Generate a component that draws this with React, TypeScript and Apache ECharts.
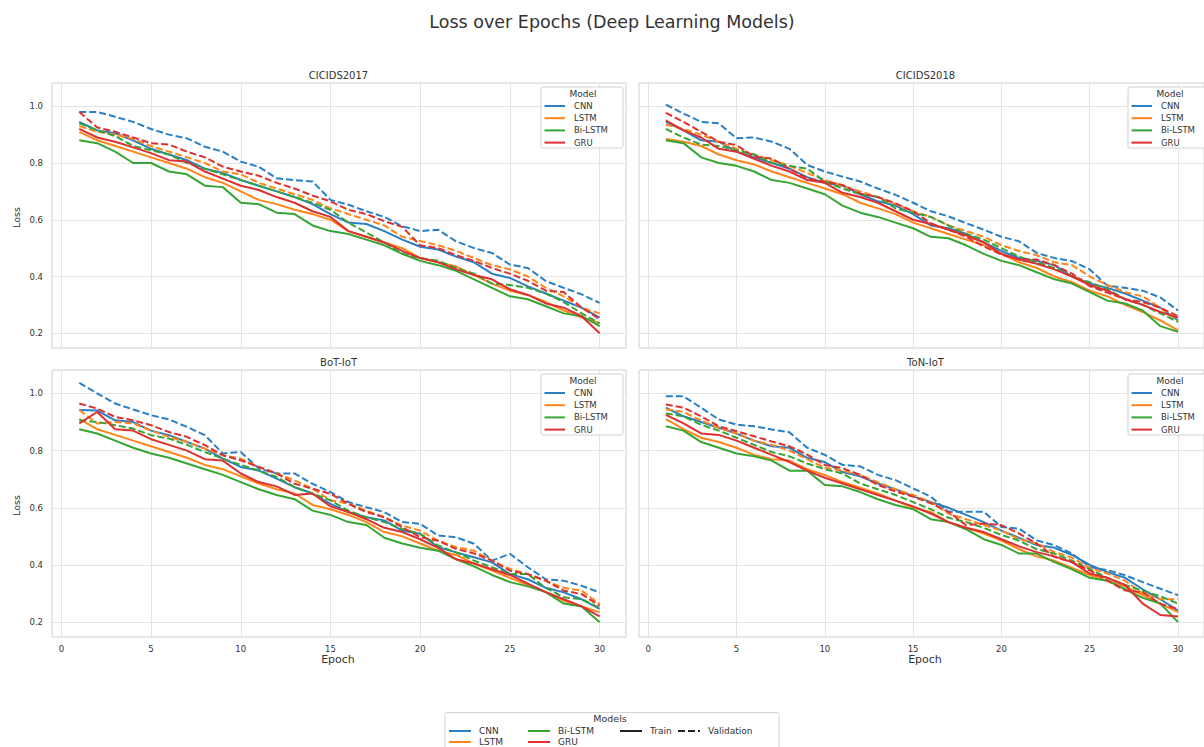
import React, { useEffect, useRef } from "react";
import * as echarts from "echarts";

// ---------- data ----------
const EPOCHS = [1, 2, 3, 4, 5, 6, 7, 8, 9, 10, 11, 12, 13, 14, 15, 16, 17, 18, 19, 20, 21, 22, 23, 24, 25, 26, 27, 28, 29, 30];
const MODELS = ["CNN", "LSTM", "Bi-LSTM", "GRU"];
const DATASETS = ["CICIDS2017", "CICIDS2018", "BoT-IoT", "ToN-IoT"];
const Y_TICKS = [0.2, 0.4, 0.6, 0.8, 1.0];
const X_TICKS = [0, 5, 10, 15, 20, 25, 30];

// CICIDS2017
const c17CnnTrain = [0.945, 0.915, 0.905, 0.88, 0.85, 0.83, 0.81, 0.78, 0.765, 0.74, 0.72, 0.70, 0.68, 0.655, 0.62, 0.59, 0.585, 0.56, 0.53, 0.505, 0.495, 0.47, 0.45, 0.41, 0.395, 0.365, 0.34, 0.315, 0.29, 0.255];
const c17CnnVal = [0.98, 0.98, 0.963, 0.945, 0.92, 0.90, 0.887, 0.857, 0.84, 0.805, 0.787, 0.746, 0.74, 0.735, 0.67, 0.653, 0.63, 0.61, 0.577, 0.56, 0.565, 0.524, 0.50, 0.483, 0.442, 0.43, 0.384, 0.36, 0.337, 0.307];
const c17LstmTrain = [0.91, 0.88, 0.86, 0.84, 0.82, 0.80, 0.78, 0.75, 0.73, 0.70, 0.67, 0.655, 0.635, 0.62, 0.60, 0.56, 0.54, 0.52, 0.50, 0.465, 0.45, 0.435, 0.405, 0.375, 0.35, 0.335, 0.31, 0.28, 0.255, 0.235];
const c17LstmVal = [0.93, 0.91, 0.9, 0.885, 0.86, 0.84, 0.82, 0.80, 0.77, 0.76, 0.73, 0.71, 0.69, 0.67, 0.64, 0.62, 0.6, 0.58, 0.54, 0.525, 0.51, 0.49, 0.465, 0.44, 0.425, 0.4, 0.36, 0.33, 0.29, 0.27];
const c17BiTrain = [0.88, 0.87, 0.84, 0.80, 0.80, 0.77, 0.76, 0.72, 0.715, 0.66, 0.655, 0.625, 0.62, 0.58, 0.56, 0.55, 0.53, 0.51, 0.48, 0.455, 0.44, 0.42, 0.39, 0.36, 0.33, 0.32, 0.295, 0.27, 0.26, 0.225];
const c17BiVal = [0.94, 0.915, 0.895, 0.86, 0.845, 0.83, 0.80, 0.78, 0.76, 0.74, 0.72, 0.70, 0.68, 0.66, 0.635, 0.59, 0.555, 0.52, 0.48, 0.465, 0.455, 0.43, 0.41, 0.375, 0.37, 0.36, 0.34, 0.31, 0.27, 0.235];
const c17GruTrain = [0.92, 0.89, 0.875, 0.855, 0.835, 0.81, 0.805, 0.77, 0.745, 0.72, 0.705, 0.68, 0.66, 0.63, 0.61, 0.56, 0.54, 0.52, 0.49, 0.465, 0.45, 0.425, 0.405, 0.39, 0.355, 0.335, 0.305, 0.29, 0.26, 0.20];
const c17GruVal = [0.98, 0.925, 0.91, 0.89, 0.87, 0.865, 0.84, 0.82, 0.787, 0.77, 0.755, 0.73, 0.71, 0.685, 0.665, 0.635, 0.62, 0.595, 0.575, 0.51, 0.5, 0.475, 0.455, 0.43, 0.41, 0.385, 0.35, 0.345, 0.29, 0.25];

// CICIDS2018
const c18CnnTrain = [0.945, 0.915, 0.88, 0.875, 0.84, 0.82, 0.80, 0.78, 0.75, 0.73, 0.72, 0.69, 0.665, 0.65, 0.62, 0.58, 0.57, 0.55, 0.52, 0.49, 0.465, 0.455, 0.44, 0.40, 0.375, 0.36, 0.34, 0.315, 0.29, 0.245];
const c18CnnVal = [1.006, 0.974, 0.945, 0.94, 0.887, 0.89, 0.875, 0.85, 0.793, 0.77, 0.752, 0.735, 0.71, 0.688, 0.66, 0.63, 0.612, 0.588, 0.565, 0.54, 0.524, 0.483, 0.465, 0.454, 0.425, 0.367, 0.36, 0.35, 0.326, 0.28];
const c18LstmTrain = [0.885, 0.875, 0.86, 0.83, 0.81, 0.795, 0.77, 0.75, 0.73, 0.71, 0.69, 0.66, 0.64, 0.62, 0.59, 0.57, 0.55, 0.53, 0.51, 0.48, 0.45, 0.43, 0.40, 0.38, 0.35, 0.33, 0.30, 0.275, 0.245, 0.21];
const c18LstmVal = [0.935, 0.92, 0.9, 0.875, 0.85, 0.83, 0.81, 0.79, 0.765, 0.74, 0.72, 0.70, 0.68, 0.655, 0.63, 0.61, 0.58, 0.56, 0.54, 0.51, 0.49, 0.475, 0.45, 0.44, 0.40, 0.37, 0.345, 0.33, 0.29, 0.245];
const c18BiTrain = [0.88, 0.87, 0.82, 0.80, 0.79, 0.77, 0.74, 0.73, 0.71, 0.69, 0.65, 0.625, 0.61, 0.59, 0.57, 0.54, 0.535, 0.51, 0.48, 0.455, 0.44, 0.415, 0.39, 0.375, 0.345, 0.315, 0.305, 0.28, 0.225, 0.205];
const c18BiVal = [0.92, 0.89, 0.865, 0.86, 0.845, 0.83, 0.80, 0.79, 0.78, 0.735, 0.71, 0.69, 0.68, 0.64, 0.625, 0.61, 0.58, 0.55, 0.53, 0.50, 0.47, 0.45, 0.43, 0.40, 0.38, 0.355, 0.32, 0.30, 0.27, 0.24];
const c18GruTrain = [0.95, 0.915, 0.89, 0.85, 0.84, 0.815, 0.79, 0.77, 0.74, 0.73, 0.695, 0.68, 0.66, 0.63, 0.60, 0.585, 0.565, 0.545, 0.52, 0.48, 0.46, 0.445, 0.425, 0.40, 0.37, 0.35, 0.32, 0.30, 0.275, 0.255];
const c18GruVal = [0.977, 0.945, 0.91, 0.875, 0.863, 0.822, 0.816, 0.78, 0.746, 0.735, 0.723, 0.693, 0.68, 0.658, 0.63, 0.588, 0.565, 0.54, 0.506, 0.477, 0.46, 0.46, 0.44, 0.41, 0.366, 0.343, 0.32, 0.31, 0.29, 0.26];

// BoT-IoT
const botCnnTrain = [0.942, 0.94, 0.906, 0.90, 0.87, 0.854, 0.83, 0.807, 0.772, 0.743, 0.73, 0.702, 0.672, 0.65, 0.614, 0.585, 0.567, 0.556, 0.52, 0.509, 0.462, 0.444, 0.427, 0.409, 0.368, 0.35, 0.32, 0.304, 0.28, 0.246];
const botCnnVal = [1.037, 1.0, 0.965, 0.944, 0.924, 0.909, 0.883, 0.854, 0.79, 0.795, 0.737, 0.72, 0.72, 0.684, 0.655, 0.62, 0.602, 0.585, 0.55, 0.544, 0.503, 0.497, 0.474, 0.415, 0.439, 0.392, 0.35, 0.345, 0.327, 0.304];
const botLstmTrain = [0.91, 0.875, 0.855, 0.835, 0.815, 0.795, 0.775, 0.75, 0.735, 0.71, 0.685, 0.665, 0.65, 0.61, 0.595, 0.575, 0.55, 0.515, 0.5, 0.475, 0.45, 0.435, 0.405, 0.38, 0.355, 0.33, 0.305, 0.275, 0.255, 0.235];
const botLstmVal = [0.942, 0.895, 0.90, 0.895, 0.87, 0.848, 0.83, 0.807, 0.784, 0.772, 0.743, 0.72, 0.696, 0.667, 0.626, 0.614, 0.59, 0.567, 0.538, 0.52, 0.485, 0.462, 0.45, 0.415, 0.386, 0.368, 0.345, 0.32, 0.31, 0.263];
const botBiTrain = [0.875, 0.86, 0.835, 0.81, 0.79, 0.775, 0.755, 0.735, 0.715, 0.69, 0.665, 0.645, 0.63, 0.59, 0.575, 0.55, 0.54, 0.495, 0.475, 0.46, 0.45, 0.42, 0.395, 0.365, 0.34, 0.325, 0.305, 0.265, 0.255, 0.2];
const botBiVal = [0.906, 0.90, 0.889, 0.877, 0.854, 0.842, 0.82, 0.795, 0.772, 0.75, 0.73, 0.708, 0.672, 0.65, 0.626, 0.59, 0.567, 0.55, 0.526, 0.509, 0.468, 0.444, 0.415, 0.392, 0.368, 0.368, 0.32, 0.287, 0.28, 0.25];
const botGruTrain = [0.895, 0.935, 0.875, 0.87, 0.84, 0.82, 0.80, 0.77, 0.765, 0.72, 0.69, 0.675, 0.645, 0.65, 0.605, 0.585, 0.56, 0.53, 0.515, 0.49, 0.46, 0.42, 0.405, 0.385, 0.365, 0.335, 0.305, 0.28, 0.255, 0.22];
const botGruVal = [0.965, 0.947, 0.918, 0.906, 0.889, 0.865, 0.848, 0.819, 0.784, 0.766, 0.743, 0.72, 0.684, 0.667, 0.649, 0.614, 0.585, 0.567, 0.532, 0.497, 0.485, 0.456, 0.44, 0.415, 0.38, 0.368, 0.345, 0.31, 0.298, 0.257];

// ToN-IoT
const tonCnnTrain = [0.95, 0.92, 0.9, 0.88, 0.86, 0.835, 0.815, 0.81, 0.775, 0.76, 0.725, 0.71, 0.685, 0.665, 0.64, 0.62, 0.6, 0.575, 0.55, 0.52, 0.495, 0.47, 0.46, 0.435, 0.4, 0.375, 0.355, 0.315, 0.28, 0.24];
const tonCnnVal = [0.99, 0.99, 0.95, 0.909, 0.891, 0.885, 0.874, 0.864, 0.81, 0.785, 0.75, 0.745, 0.715, 0.697, 0.668, 0.639, 0.586, 0.586, 0.586, 0.533, 0.527, 0.486, 0.469, 0.44, 0.393, 0.382, 0.364, 0.34, 0.317, 0.294];
const tonLstmTrain = [0.91, 0.875, 0.845, 0.83, 0.81, 0.785, 0.77, 0.765, 0.735, 0.715, 0.69, 0.67, 0.65, 0.625, 0.6, 0.585, 0.55, 0.53, 0.51, 0.485, 0.455, 0.43, 0.415, 0.39, 0.365, 0.345, 0.325, 0.295, 0.265, 0.235];
const tonLstmVal = [0.945, 0.935, 0.905, 0.88, 0.86, 0.835, 0.82, 0.80, 0.77, 0.74, 0.73, 0.715, 0.69, 0.665, 0.645, 0.62, 0.58, 0.56, 0.54, 0.52, 0.49, 0.475, 0.445, 0.425, 0.39, 0.37, 0.345, 0.3, 0.28, 0.28];
const tonBiTrain = [0.885, 0.87, 0.83, 0.81, 0.79, 0.78, 0.765, 0.73, 0.73, 0.68, 0.675, 0.655, 0.63, 0.61, 0.595, 0.56, 0.55, 0.525, 0.49, 0.47, 0.44, 0.44, 0.41, 0.385, 0.355, 0.345, 0.315, 0.285, 0.265, 0.2];
const tonBiVal = [0.93, 0.92, 0.89, 0.87, 0.845, 0.82, 0.795, 0.78, 0.755, 0.735, 0.72, 0.685, 0.665, 0.645, 0.62, 0.595, 0.565, 0.55, 0.53, 0.505, 0.485, 0.455, 0.44, 0.415, 0.385, 0.355, 0.33, 0.31, 0.29, 0.265];
const tonGruTrain = [0.925, 0.895, 0.86, 0.855, 0.835, 0.81, 0.785, 0.76, 0.73, 0.705, 0.685, 0.665, 0.645, 0.625, 0.605, 0.58, 0.55, 0.53, 0.515, 0.49, 0.465, 0.445, 0.43, 0.41, 0.37, 0.355, 0.33, 0.265, 0.225, 0.22];
const tonGruVal = [0.961, 0.95, 0.92, 0.885, 0.868, 0.85, 0.832, 0.815, 0.786, 0.75, 0.739, 0.715, 0.68, 0.657, 0.639, 0.616, 0.586, 0.539, 0.545, 0.539, 0.51, 0.475, 0.428, 0.41, 0.381, 0.346, 0.311, 0.305, 0.264, 0.246];

const PANEL_DATA = [
  [[c17CnnTrain, c17CnnVal], [c17LstmTrain, c17LstmVal], [c17BiTrain, c17BiVal], [c17GruTrain, c17GruVal]],
  [[c18CnnTrain, c18CnnVal], [c18LstmTrain, c18LstmVal], [c18BiTrain, c18BiVal], [c18GruTrain, c18GruVal]],
  [[botCnnTrain, botCnnVal], [botLstmTrain, botLstmVal], [botBiTrain, botBiVal], [botGruTrain, botGruVal]],
  [[tonCnnTrain, tonCnnVal], [tonLstmTrain, tonLstmVal], [tonBiTrain, tonBiVal], [tonGruTrain, tonGruVal]],
];

// ---------- styling / layout ----------
const COLORS = ["#2a7fc4", "#ff8518", "#35a535", "#de3030"];
const FONT = "DejaVu Sans";
const TEXT = "#333333";
const DASH = [7, 3];

const GRIDS = [
  { left: 52, top: 83, width: 574, height: 265 },
  { left: 639, top: 83, width: 574, height: 265 },
  { left: 52, top: 370, width: 574, height: 267 },
  { left: 639, top: 370, width: 574, height: 267 },
];

function txt(text: string, x: number, y: number, size: number, align = "left", extra: any = {}) {
  return {
    type: "text",
    x,
    y,
    z: 100,
    silent: true,
    ...extra,
    style: { text, fontSize: size, fontFamily: FONT, fill: TEXT, align, verticalAlign: "middle" },
  };
}

function seg(x1: number, x2: number, y: number, color: string, dashed: boolean) {
  return {
    type: "line",
    z: 100,
    silent: true,
    shape: { x1, y1: y, x2, y2: y },
    style: { stroke: color, lineWidth: 2, lineDash: dashed ? DASH : null },
  };
}

function panelLegend(L: number, T: number) {
  const els: any[] = [
    {
      type: "rect",
      z: 99,
      silent: true,
      shape: { x: L + 489, y: T + 4, width: 82, height: 61, r: 2 },
      style: { fill: "rgba(255,255,255,0.85)", stroke: "#d2d2d2", lineWidth: 1 },
    },
    txt("Model", L + 531, T + 10.5, 9, "center"),
  ];
  MODELS.forEach((m, k) => {
    const y = T + 23 + 12.2 * k;
    els.push(seg(L + 492.5, L + 513, y, COLORS[k], false));
    els.push(txt(m, L + 522, y, 8.5));
  });
  return els;
}

function bottomLegend() {
  const els: any[] = [
    {
      type: "rect",
      z: 99,
      silent: true,
      shape: { x: 445, y: 712.5, width: 334, height: 45, r: 2 },
      style: { fill: "#ffffff", stroke: "#d2d2d2", lineWidth: 1 },
    },
    txt("Models", 610, 718, 9.5, "center"),
  ];
  const entries = [
    { label: MODELS[0], color: COLORS[0], dashed: false, x: 449, y: 731 },
    { label: MODELS[1], color: COLORS[1], dashed: false, x: 449, y: 742 },
    { label: MODELS[2], color: COLORS[2], dashed: false, x: 528, y: 731 },
    { label: MODELS[3], color: COLORS[3], dashed: false, x: 528, y: 742 },
    { label: "Train", color: "#222222", dashed: false, x: 620, y: 731 },
    { label: "Validation", color: "#222222", dashed: true, x: 678, y: 731 },
  ];
  entries.forEach((e) => {
    els.push(seg(e.x, e.x + 22, e.y, e.color, e.dashed));
    els.push(txt(e.label, e.x + 30, e.y, 9));
  });
  return els;
}

export default function App() {
  const ref = useRef<HTMLDivElement>(null);

  useEffect(() => {
    if (!ref.current) return;
    const chart = echarts.init(ref.current, undefined, { renderer: "svg" });

    const grid = GRIDS.map((g) => ({
      ...g,
      show: true,
      backgroundColor: "#ffffff",
      borderColor: "#d4d4d4",
      borderWidth: 1,
      containLabel: false,
    }));

    const xAxis = GRIDS.map((_, p) => ({
      type: "value",
      gridIndex: p,
      min: -0.52,
      max: 31.47,
      splitNumber: 6,
      axisLine: { show: false },
      axisTick: { show: false },
      axisLabel: {
        show: p >= 2,
        fontSize: 8.5,
        fontFamily: FONT,
        color: TEXT,
        margin: 7,
        showMinLabel: false,
        showMaxLabel: false,
        formatter: (v: number) => (X_TICKS.some((t) => Math.abs(t - v) < 1e-6) ? String(Math.round(v)) : ""),
      },
      splitLine: { show: true, lineStyle: { color: "#e4e4e4", width: 1 } },
    }));

    const yAxis = GRIDS.map((_, p) => ({
      type: "value",
      gridIndex: p,
      min: 0.148,
      max: 1.082,
      splitNumber: 5,
      axisLine: { show: false },
      axisTick: { show: false },
      axisLabel: {
        show: p % 2 === 0,
        fontSize: 8.5,
        fontFamily: FONT,
        color: TEXT,
        margin: 9,
        showMinLabel: false,
        showMaxLabel: false,
        formatter: (v: number) => (Y_TICKS.some((t) => Math.abs(t - v) < 1e-6) ? v.toFixed(1) : ""),
      },
      splitLine: { show: true, lineStyle: { color: "#e4e4e4", width: 1 } },
    }));

    const series: any[] = [];
    PANEL_DATA.forEach((panel, p) => {
      panel.forEach(([train, val], m) => {
        series.push({
          type: "line",
          name: `${DATASETS[p]} ${MODELS[m]} Train`,
          xAxisIndex: p,
          yAxisIndex: p,
          data: EPOCHS.map((e, i) => [e, train[i]]),
          showSymbol: false,
          symbol: "none",
          silent: true,
          lineStyle: { color: COLORS[m], width: 2 },
          itemStyle: { color: COLORS[m] },
          z: 2 + m * 2,
        });
        series.push({
          type: "line",
          name: `${DATASETS[p]} ${MODELS[m]} Validation`,
          xAxisIndex: p,
          yAxisIndex: p,
          data: EPOCHS.map((e, i) => [e, val[i]]),
          showSymbol: false,
          symbol: "none",
          silent: true,
          lineStyle: { color: COLORS[m], width: 2, type: DASH },
          itemStyle: { color: COLORS[m] },
          z: 3 + m * 2,
        });
      });
    });

    const elements: any[] = [];
    elements.push(txt("Loss over Epochs (Deep Learning Models)", 612, 22, 17.5, "center", {}));
    GRIDS.forEach((g, p) => {
      elements.push(txt(DATASETS[p], g.left + g.width / 2 - 0.5, g.top - 8, 10, "center"));
      elements.push(...panelLegend(g.left, g.top));
      if (p % 2 === 0) {
        elements.push(txt("Loss", 16, g.top + g.height / 2 + 2, 9.5, "center", { rotation: Math.PI / 2 }));
      }
      if (p >= 2) {
        elements.push(txt("Epoch", g.left + g.width / 2 - 1, 659, 11, "center"));
      }
    });
    elements.push(...bottomLegend());

    chart.setOption({
      animation: false,
      backgroundColor: "#ffffff",
      textStyle: { fontFamily: FONT },
      grid,
      xAxis,
      yAxis,
      series,
      graphic: { elements },
    });

    return () => chart.dispose();
  }, []);

  return (
    <div
      ref={ref}
      style={{ position: "absolute", left: 0, top: 0, width: 1204, height: 747, background: "#fff" }}
    />
  );
}
